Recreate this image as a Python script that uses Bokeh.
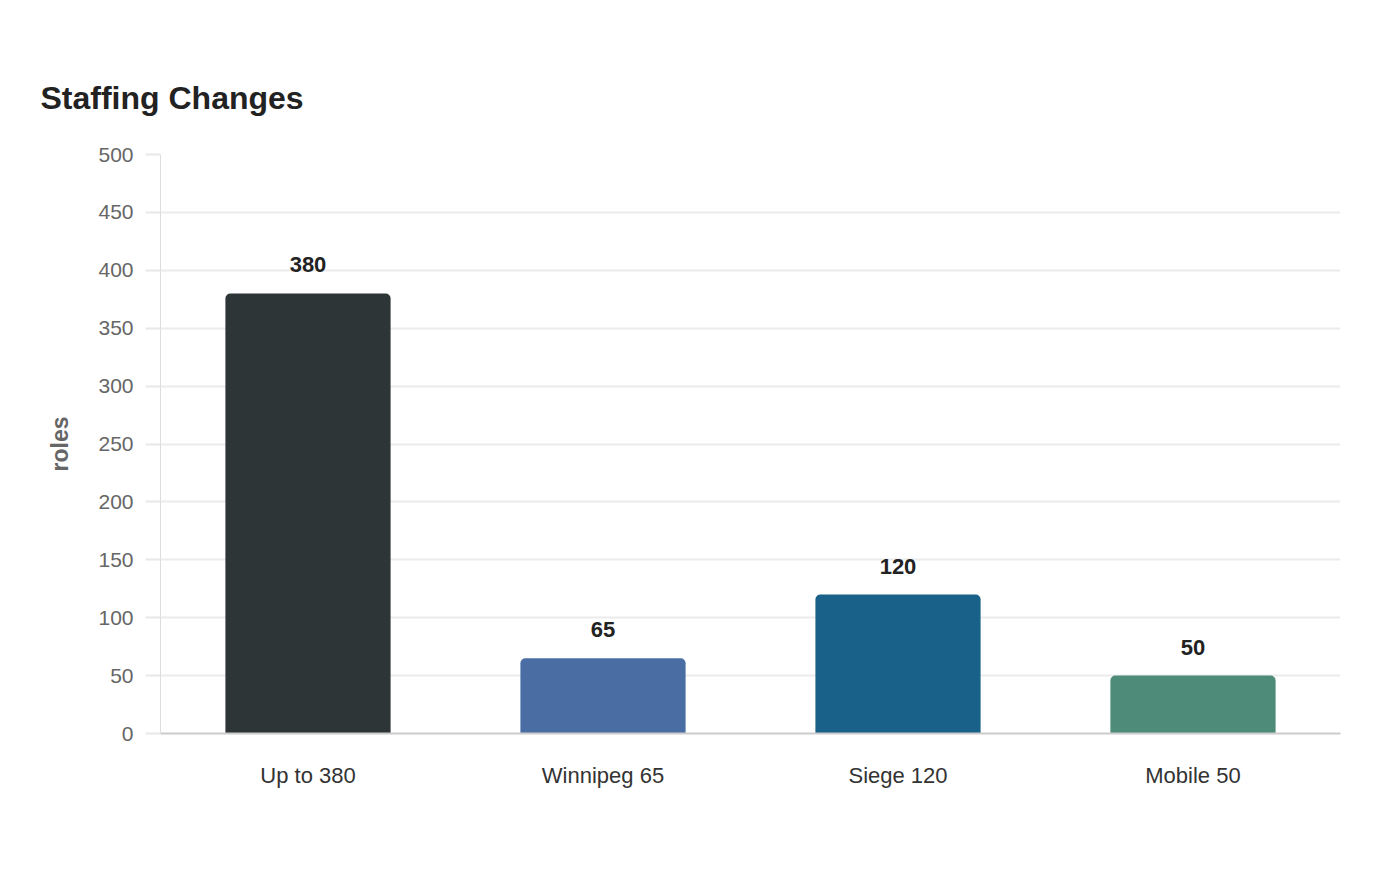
from bokeh.plotting import figure
from bokeh.models import ColumnDataSource, FixedTicker, FactorRange, Range1d
from bokeh.core.properties import value
from bokeh.embed import file_html
from bokeh.resources import INLINE

categories = ["Up to 380", "Winnipeg 65", "Siege 120", "Mobile 50"]
values = [380, 65, 120, 50]
colors = ["#2e3537", "#4a6ea3", "#196188", "#4e8c79"]
y_ticks = [0, 50, 100, 150, 200, 250, 300, 350, 400, 450, 500]

src = ColumnDataSource(dict(cat=categories, val=values, col=colors,
                            lab=[str(v) for v in values]))

FONT = "Liberation Sans"

p = figure(width=1400, height=880, x_range=FactorRange(*categories, range_padding=0),
           y_range=Range1d(0, 500), output_backend="svg", toolbar_location=None,
           min_border_left=160, min_border_right=60, min_border_top=154,
           min_border_bottom=147, title="Staffing Changes")
p.outline_line_color = None
p.background_fill_color = "white"
p.border_fill_color = "white"

p.title.text_font = FONT
p.title.text_font_size = "32px"
p.title.text_font_style = "bold"
p.title.text_color = "#222222"
p.title.align = "left"
p.title.offset = -120
p.title.standoff = 78

p.vbar(x="cat", top="val", width=0.56, source=src, fill_color="col",
       line_color=None, border_radius=(5, 5, 0, 0))

p.text(x="cat", y="val", text="lab", source=src, text_align="center",
       text_baseline="bottom", y_offset=-21, text_font_size="22px",
       text_font_style="bold", text_color="#222222", text_font=value(FONT))

# y axis
ya = p.yaxis[0]
ya.ticker = FixedTicker(ticks=y_ticks)
ya.axis_label = "roles"
ya.axis_label_text_font = FONT
ya.axis_label_text_font_size = "23px"
ya.axis_label_text_font_style = "bold"
ya.axis_label_text_color = "#666666"
ya.axis_label_standoff = 22
ya.major_label_text_font = FONT
ya.major_label_text_font_size = "21px"
ya.major_label_text_color = "#666666"
ya.major_label_standoff = 12
ya.major_tick_out = 15
ya.major_tick_in = 0
ya.major_tick_line_color = "#e8e8e8"
ya.major_tick_line_width = 2
ya.minor_tick_line_color = None
ya.axis_line_color = "#dddddd"
ya.axis_line_width = 1

# x axis
xa = p.xaxis[0]
xa.major_label_text_font = FONT
xa.major_label_text_font_size = "22px"
xa.major_label_text_color = "#333333"
xa.major_label_standoff = 23
xa.major_tick_line_color = None
xa.minor_tick_line_color = None
xa.axis_line_color = "#cccccc"
xa.axis_line_width = 2

p.xgrid.grid_line_color = None
p.ygrid.grid_line_color = "#ebebeb"
p.ygrid.grid_line_width = 2

open("out.html", "w").write(file_html(p, INLINE))
